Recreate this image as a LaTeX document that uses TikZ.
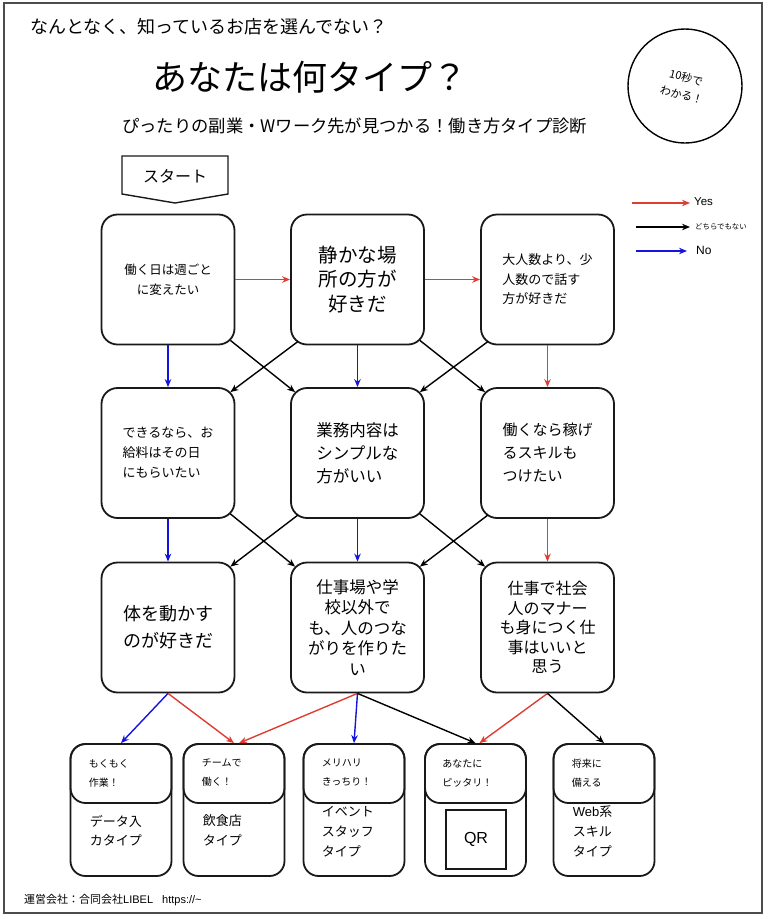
\documentclass[tikz,border=0pt]{standalone}
\usepackage{fontspec}
\setmainfont{Noto Sans CJK JP}
\newfontfamily\lat{Liberation Sans}
\usetikzlibrary{arrows.meta,calc}
\definecolor{myred}{RGB}{222,62,50}
\definecolor{myblue}{RGB}{20,20,225}
\newcommand{\fs}[2]{\fontsize{#1}{#2}\selectfont}
\begin{document}
\begin{tikzpicture}[x=1pt,y=-1pt,
  box/.style={draw=black!90,line width=1.8pt,rounded corners=16pt,minimum width=133pt,minimum height=130pt,inner sep=0pt,align=center},
  rbox/.style={draw=black!90,line width=1.8pt,rounded corners=15pt,minimum width=101pt,minimum height=132pt,inner sep=0pt},
  hbox/.style={draw=black!90,line width=1.8pt,rounded corners=15pt,minimum width=101pt,minimum height=59pt,inner sep=0pt},
  txt/.style={inner sep=0pt,align=left},
  arr/.style={line width=1.4pt,-{Stealth[length=8pt,width=6.5pt]}},
  larr/.style={line width=1.6pt,-{Stealth[length=8pt,width=6.5pt]}}]
\useasboundingbox (0,0) rectangle (768,919);
\draw[line width=2pt,black!70] (4,3) rectangle (762,913);
% titles
\node[txt,anchor=west,font=\fs{18}{18}] (t1) at (30,27) {なんとなく、知っているお店を選んでない？};
\node[txt,anchor=west,font=\fs{35}{35}] (t2) at (152,77) {あなたは何タイプ？};
\node[txt,anchor=west,font=\fs{17.3}{17.3}] (t3) at (122,126) {ぴったりの副業・Wワーク先が見つかる！働き方タイプ診断};
% badge
\node[draw,circle,line width=1.4pt,minimum size=114pt,inner sep=0pt] (badge) at (685,86) {};
\node[inner sep=0pt,align=center,rotate=-15,font=\fs{11}{18}] (badgetxt) at (684,86) {10秒で\\わかる！};
% legend
\coordinate (ly1) at (632,203); \coordinate (ly2) at (690,203);
\coordinate (lm1) at (636,227); \coordinate (lm2) at (690,227);
\coordinate (ln1) at (636,251); \coordinate (ln2) at (687,251);
\draw[larr,myred] (ly1) -- (ly2);
\draw[larr,black] (lm1) -- (lm2);
\draw[larr,myblue] (ln1) -- (ln2);
\node[txt,anchor=west,font=\lat\fs{11.5}{11.5}] (lyt) at (694,202) {Yes};
\node[txt,anchor=west,font=\fs{7.4}{7.4}] (lmt) at (695,227) {どちらでもない};
\node[txt,anchor=west,font=\lat\fs{12}{12}] (lnt) at (696,250) {No};
% start
\draw[line width=1.4pt,black!90] (122,156) -- (228,156) -- (228,194) -- (175,203) -- (122,194) -- cycle;
\node[inner sep=0pt,font=\fs{16}{16}] (start) at (175,176) {スタート};
% question boxes
\node[box,font=\fs{12.5}{20}] (q1) at (168,279.5) {働く日は週ごと\\に変えたい};
\node[box,font=\fs{19.5}{24.5}] (q2) at (357.5,279.5) {静かな場\\所の方が\\好きだ};
\node[box,align=left,font=\fs{13}{19.5}] (q3) at (547.5,279.5) {大人数より、少\\人数ので話す\\方が好きだ};
\node[box,align=left,font=\fs{13}{20}] (q4) at (168,453) {できるなら、お\\給料はその日\\にもらいたい};
\node[box,align=left,font=\fs{16.5}{23}] (q5) at (357.5,453) {業務内容は\\シンプルな\\方がいい};
\node[box,align=left,font=\fs{15}{23}] (q6) at (547.5,453) {働くなら稼げ\\るスキルも\\つけたい};
\node[box,font=\fs{18}{27}] (q7) at (168,627.5) {体を動かす\\のが好きだ};
\node[box,font=\fs{16.5}{20.5}] (q8) at (357.5,627.5) {仕事場や学\\校以外で\\も、人のつな\\がりを作りた\\い};
\node[box,font=\fs{16}{19.5}] (q9) at (547.5,627.5) {仕事で社会\\人のマナー\\も身につく仕\\事はいいと\\思う};
% result boxes
\foreach \n/\x in {1/121,2/234,3/354,4/475.5,5/604}{
  \node[rbox] (b\n) at (\x,810) {};
  \node[hbox] (h\n) at (\x,773.5) {};
}
\tikzset{htxt/.style={txt,anchor=west,font=\fs{10}{19}},btxt/.style={txt,anchor=west,font=\fs{13}{19.5}}}
\node[htxt] (h1t) at ($(b1.west)+(19,-37)$) {もくもく\\作業！};
\node[htxt] (h2t) at ($(b2.west)+(19,-37)$) {チームで\\働く！};
\node[htxt] (h3t) at ($(b3.west)+(19,-37)$) {メリハリ\\きっちり！};
\node[htxt] (h4t) at ($(b4.west)+(18,-37)$) {あなたに\\ピッタリ！};
\node[htxt] (h5t) at ($(b5.west)+(19,-37)$) {将来に\\備える};
\node[btxt] (b1t) at ($(b1.west)+(20,20.5)$) {データ入\\カタイプ};
\node[btxt] (b2t) at ($(b2.west)+(20,20.5)$) {飲食店\\タイプ};
\node[btxt,font=\fs{13}{20}] (b3t) at ($(b3.west)+(19,21.5)$) {イベント\\スタッフ\\タイプ};
\node[btxt,font=\fs{13}{20}] (b5t) at ($(b5.west)+(20,21.5)$) {{\lat Web}系\\スキル\\タイプ};
\node[draw=black!90,line width=1.8pt,minimum width=60pt,minimum height=59pt,inner sep=0pt,font=\lat\fs{16}{16}] (qr) at (476,839.5) {QR};
% arrows row 1 -> row 2
\draw[arr,myred] (q1.east) -- (q2.west);
\draw[arr,myred] (q2.east) -- (q3.west);
\draw[arr,myblue] (q1.south) -- (q4.north);
\draw[arr,myblue] (q2.south) -- (q5.north);
\draw[arr,myred] (q3.south) -- (q6.north);
\draw[arr] ($(q1.south east)+(-5,-5)$) -- ($(q5.north west)+(5,5)$);
\draw[arr] ($(q2.south west)+(8,-4)$) -- ($(q4.north east)+(-5,5)$);
\draw[arr] ($(q2.south east)+(-5,-5)$) -- ($(q6.north west)+(5,5)$);
\draw[arr] ($(q3.south west)+(8,-4)$) -- ($(q5.north east)+(-5,5)$);
% arrows row 2 -> row 3
\draw[arr,myblue] (q4.south) -- (q7.north);
\draw[arr,myblue] (q5.south) -- (q8.north);
\draw[arr,myred] (q6.south) -- (q9.north);
\draw[arr] ($(q4.south east)+(-5,-5)$) -- ($(q8.north west)+(5,5)$);
\draw[arr] ($(q5.south west)+(8,-4)$) -- ($(q7.north east)+(-5,5)$);
\draw[arr] ($(q5.south east)+(-5,-5)$) -- ($(q9.north west)+(5,5)$);
\draw[arr] ($(q6.south west)+(8,-4)$) -- ($(q8.north east)+(-5,5)$);
% arrows row 3 -> results
\draw[arr,myblue] (q7.south) -- (b1.north);
\draw[arr,myred] (q7.south) -- (b2.north);
\draw[arr,myred] (q8.south) -- ($(b2.north)+(5,0)$);
\draw[arr,myblue] (q8.south) -- (b3.north);
\draw[arr] (q8.south) -- (b4.north);
\draw[arr,myred] (q9.south) -- ($(b4.north)+(4,0)$);
\draw[arr] (q9.south) -- (b5.north);
% footer
\node[txt,anchor=west,font=\fs{11}{11}] (foot) at (24,900) {運営会社：合同会社{\lat LIBEL\hspace{9pt}https://\textasciitilde}};
\end{tikzpicture}
\end{document}
